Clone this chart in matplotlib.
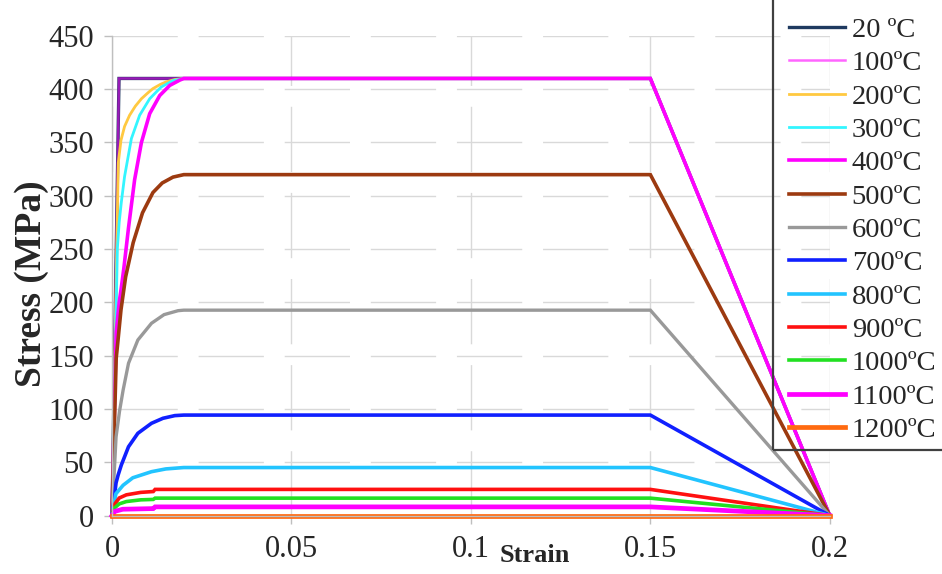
import matplotlib
matplotlib.use("Agg")
import matplotlib.pyplot as plt
from matplotlib.patches import Rectangle

# Stress-strain curves (strain [-], stress [MPa])
labels = ["20 ºC", "100ºC", "200ºC", "300ºC", "400ºC", "500ºC", "600ºC",
          "700ºC", "800ºC", "900ºC", "1000ºC", "1100ºC", "1200ºC"]

eps_20 = [0, 0.00195, 0.15, 0.2]
sig_20 = [0, 410, 410, 0]

eps_100 = [0, 0.00195, 0.15, 0.2]
sig_100 = [0, 410, 410, 0]

eps_200 = [0, 0.00175, 0.0025, 0.0035, 0.0049, 0.0065, 0.0082, 0.0100, 0.0114, 0.0135, 0.0151, 0.0175, 0.020, 0.15, 0.2]
sig_200 = [0, 331, 352, 365, 375.5, 384, 391, 396.5, 400.5, 404.5, 406.8, 409, 410, 410, 0]

eps_300 = [0, 0.0015, 0.0020, 0.0026, 0.0035, 0.0054, 0.0077, 0.0105, 0.0137, 0.0170, 0.020, 0.15, 0.2]
sig_300 = [0, 251, 275, 294, 318, 353.6, 375.5, 391, 402, 408, 410, 410, 0]

eps_400 = [0, 0.00117, 0.0020, 0.0026, 0.0033, 0.0046, 0.0063, 0.0082, 0.0105, 0.0133, 0.0161, 0.0189, 0.020, 0.15, 0.2]
sig_400 = [0, 172, 200, 214, 232, 270, 315, 350, 377, 394, 403.5, 408.5, 410, 410, 0]

eps_500 = [0, 0.00117, 0.0016, 0.0025, 0.0038, 0.0059, 0.0085, 0.0114, 0.0140, 0.0170, 0.020, 0.15, 0.2]
sig_500 = [0, 147.6, 162, 193, 224, 256, 284, 303, 312, 317.5, 319.8, 319.8, 0]

eps_600 = [0, 0.00113, 0.0021, 0.0031, 0.0046, 0.0072, 0.0110, 0.0145, 0.0184, 0.020, 0.15, 0.2]
sig_600 = [0, 73.8, 98, 117.8, 142.9, 164.7, 180.4, 188.5, 192.2, 192.7, 192.7, 0]

eps_700 = [0, 0.00113, 0.0017, 0.0026, 0.0046, 0.0072, 0.0110, 0.0142, 0.0175, 0.020, 0.15, 0.2]
sig_700 = [0, 30.75, 38, 47.5, 64.6, 77.2, 86.6, 91.3, 93.8, 94.3, 94.3, 0]

eps_800 = [0, 0.00108, 0.0031, 0.0058, 0.0110, 0.0150, 0.020, 0.15, 0.2]
sig_800 = [0, 20.5, 28.5, 35.5, 41.2, 43.8, 45.1, 45.1, 0]

eps_900 = [0, 0.0008, 0.002, 0.004, 0.008, 0.0115, 0.012, 0.15, 0.2]
sig_900 = [0, 11, 16.5, 19.5, 21.8, 22.6, 24.6, 24.6, 0]

eps_1000 = [0, 0.0008, 0.002, 0.004, 0.008, 0.0115, 0.012, 0.15, 0.2]
sig_1000 = [0, 7.5, 11, 13.2, 14.8, 15.2, 16.4, 16.4, 0]

eps_1100 = [0, 0.0008, 0.003, 0.0115, 0.012, 0.15, 0.2]
sig_1100 = [0, 4, 6, 6.6, 8.2, 8.2, 0]

eps_1200 = [0, 0.2]
sig_1200 = [0, 0]

curves = [(eps_20, sig_20), (eps_100, sig_100), (eps_200, sig_200), (eps_300, sig_300),
          (eps_400, sig_400), (eps_500, sig_500), (eps_600, sig_600), (eps_700, sig_700),
          (eps_800, sig_800), (eps_900, sig_900), (eps_1000, sig_1000),
          (eps_1100, sig_1100), (eps_1200, sig_1200)]

colors = ["#1F3A60", "#FF00FF", "#FFC940", "#33F5FF", "#FF00FF", "#9C3A10", "#999999",
          "#1020FF", "#22C4FF", "#FF1010", "#22E022", "#FF00FF", "#FF6A10"]
widths = [2.4, 1.8, 2.0, 2.0, 2.6, 2.6, 2.4, 2.6, 2.6, 2.6, 2.6, 3.4, 3.4]
alphas = [1, 0.55, 1, 1, 1, 1, 1, 1, 1, 1, 1, 1, 1]

plt.rcParams["font.family"] = ["Liberation Serif", "DejaVu Serif"]

fig = plt.figure(figsize=(9.42, 5.74), dpi=100)
ax = fig.add_axes([0.1189, 0.1017, 0.762, 0.8359])

for (x, y), c, lw, a, lab in zip(curves, colors, widths, alphas, labels):
    ax.plot(x, y, color=c, lw=lw, alpha=a, label=lab, clip_on=False,
            solid_joinstyle="miter")

ax.set_xlim(0, 0.2)
ax.set_ylim(0, 450)
ax.set_xticks([0, 0.05, 0.1, 0.15, 0.2], ["0", "0.05", "0.1", "0.15", "0.2"])
ax.set_yticks(range(0, 451, 50))
ax.grid(True, color="#D9D9D9", lw=1, linestyle=(0, (47, 15)))
ax.set_axisbelow(True)

for s in ["top", "right"]:
    ax.spines[s].set_visible(False)
for s in ["left", "bottom"]:
    ax.spines[s].set_color("#BFBFBF")
    ax.spines[s].set_linewidth(1)

ax.tick_params(axis="both", colors="#BFBFBF", labelcolor="#262626",
               labelsize=22, length=6, width=1)
ax.tick_params(axis="x", pad=8)
ax.tick_params(axis="y", pad=7)

ax.set_xlabel("Strain", fontsize=19, fontweight="bold", color="#262626")
ax.xaxis.set_label_coords(0.589, -0.06)
ax.set_ylabel("Stress (MPa)", fontsize=27, fontweight="bold", color="#262626")
ax.yaxis.set_label_coords(-0.088, 0.483)

# legend box runs off the top and right of the figure
leg = ax.legend(loc="lower left", bbox_to_anchor=(789 / 942, (574 - 443) / 574),
                bbox_transform=fig.transFigure, fontsize=20.5, frameon=False,
                handlelength=1.95, handletextpad=0.25,
                labelspacing=0.26, borderpad=0, borderaxespad=0)
for t in leg.get_texts():
    t.set_color("#262626")
for h in leg.get_lines():
    h.set_alpha(None)
leg.get_lines()[1].set_color("#FF66FF")

fig.patches.append(Rectangle((773 / 942, (574 - 450) / 574), 0.5, 1.0,
                             transform=fig.transFigure, fill=False,
                             edgecolor="#404040", lw=1.6, zorder=5))

fig.savefig("out.png", dpi=100)
